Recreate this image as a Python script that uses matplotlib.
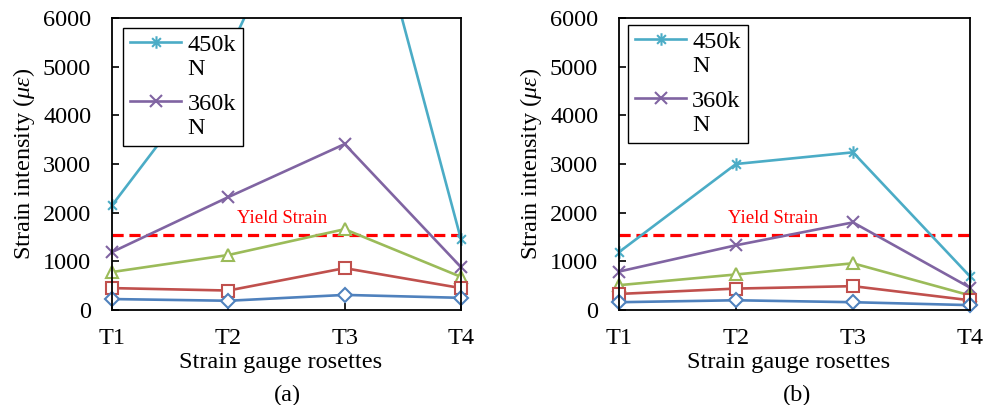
import matplotlib
matplotlib.use("Agg")
import matplotlib.pyplot as plt
from matplotlib.path import Path
from matplotlib.transforms import Bbox, TransformedBbox
from matplotlib.legend_handler import HandlerLine2D

plt.rcParams['font.family'] = ['Liberation Serif', 'DejaVu Serif']
plt.rcParams['mathtext.fontset'] = 'custom'
plt.rcParams['mathtext.rm'] = 'Liberation Serif'
plt.rcParams['mathtext.it'] = 'Liberation Serif:italic'

gauges = ['T1', 'T2', 'T3', 'T4']
yield_strain = 1550

# panel (a)
a_450 = [2150, 5300, 10400, 1450]
a_360 = [1190, 2320, 3410, 880]
a_270 = [780, 1130, 1660, 680]
a_180 = [450, 400, 860, 450]
a_90 = [225, 190, 310, 250]

# panel (b)
b_450 = [1190, 3000, 3240, 690]
b_360 = [790, 1330, 1800, 460]
b_270 = [510, 730, 960, 300]
b_180 = [330, 440, 490, 200]
b_90 = [160, 200, 160, 100]

# excel style star marker: an x plus a vertical bar
star = Path([(-0.7, -0.7), (0.7, 0.7), (-0.7, 0.7), (0.7, -0.7), (0, -1), (0, 1)],
            [Path.MOVETO, Path.LINETO, Path.MOVETO, Path.LINETO, Path.MOVETO, Path.LINETO])

styles = [
    ('450k\nN', '#4BACC6', star, 9),
    ('360k\nN', '#8064A2', 'x', 8),
    (None, '#9BBB59', '^', 8.5),
    (None, '#C0504D', 's', 8.5),
    (None, '#4F81BD', 'D', 7),
]


class TopLine(HandlerLine2D):
    # put the legend line next to the first text line, like excel does
    def create_artists(self, legend, orig_handle, xdescent, ydescent,
                       width, height, fontsize, trans):
        arts = super().create_artists(legend, orig_handle, xdescent, ydescent,
                                      width, height, fontsize, trans)
        for a in arts:
            a.set_ydata([y + fontsize * 0.62 for y in a.get_ydata()])
        return arts


def draw(ax, series, text_x, leg_anchor, tag, tag_x):
    clip = TransformedBbox(Bbox([[-0.06, -0.06], [1.06, 1.0]]), ax.transAxes)
    x = list(range(len(gauges)))
    handles = []
    for vals, (lab, col, mk, ms) in zip(series, styles):
        ln, = ax.plot(x, vals, color=col, lw=1.9, marker=mk, ms=ms, mec=col,
                      mfc='white', mew=1.5, label=lab, clip_on=False)
        ln.set_clip_box(clip)
        ln.set_clip_on(True)
        if lab:
            handles.append(ln)
    ax.axhline(yield_strain, color='red', lw=2.3, ls=(0, (3.5, 1.8)), zorder=1)
    ax.text(text_x, 1890, 'Yield Strain', color='red', fontsize=13.5,
            ha='center', va='center')
    ax.set_xlim(0, 3)
    ax.set_ylim(0, 6000)
    ax.set_xticks(x)
    ax.set_xticklabels(gauges)
    ax.set_yticks(range(0, 6001, 1000))
    ax.tick_params(direction='in', length=5, width=1.2, labelsize=17.5,
                   top=False, right=False)
    ax.tick_params(axis='y', pad=15)
    ax.tick_params(axis='x', pad=13)
    for s in ax.spines.values():
        s.set_linewidth(1.3)
        s.set_color('black')
    ax.set_xlabel('Strain gauge rosettes', fontsize=17.5)
    ax.xaxis.set_label_coords(0.483, -0.145)
    ax.set_ylabel(r'Strain intensity ($\mu\varepsilon$)', fontsize=17.5)
    ax.yaxis.set_label_coords(-0.215, 0.5)
    leg = ax.legend(handles=handles, loc='upper left', bbox_to_anchor=leg_anchor,
                    borderaxespad=0, fontsize=17.5, fancybox=False, framealpha=1,
                    edgecolor='black', handlelength=2.1, handletextpad=0.25,
                    labelspacing=0.55, borderpad=0.3,
                    handler_map={ln: TopLine() for ln in handles})
    leg.get_frame().set_linewidth(1.0)
    fig.text(tag_x, 1 - 395 / 405, tag, fontsize=17.5, ha='center', va='center')


fig = plt.figure(figsize=(9.83, 4.05), dpi=100)
ax1 = fig.add_axes([112 / 983, 1 - 310 / 405, 349 / 983, 292 / 405])
ax2 = fig.add_axes([619 / 983, 1 - 310 / 405, 351 / 983, 292 / 405])

draw(ax1, [a_450, a_360, a_270, a_180, a_90], 1.46, (0.0315, 0.966), '(a)', 287 / 983)
draw(ax2, [b_450, b_360, b_270, b_180, b_90], 1.32, (0.025, 0.976), '(b)', 797 / 983)

fig.savefig('out.png', dpi=100)
